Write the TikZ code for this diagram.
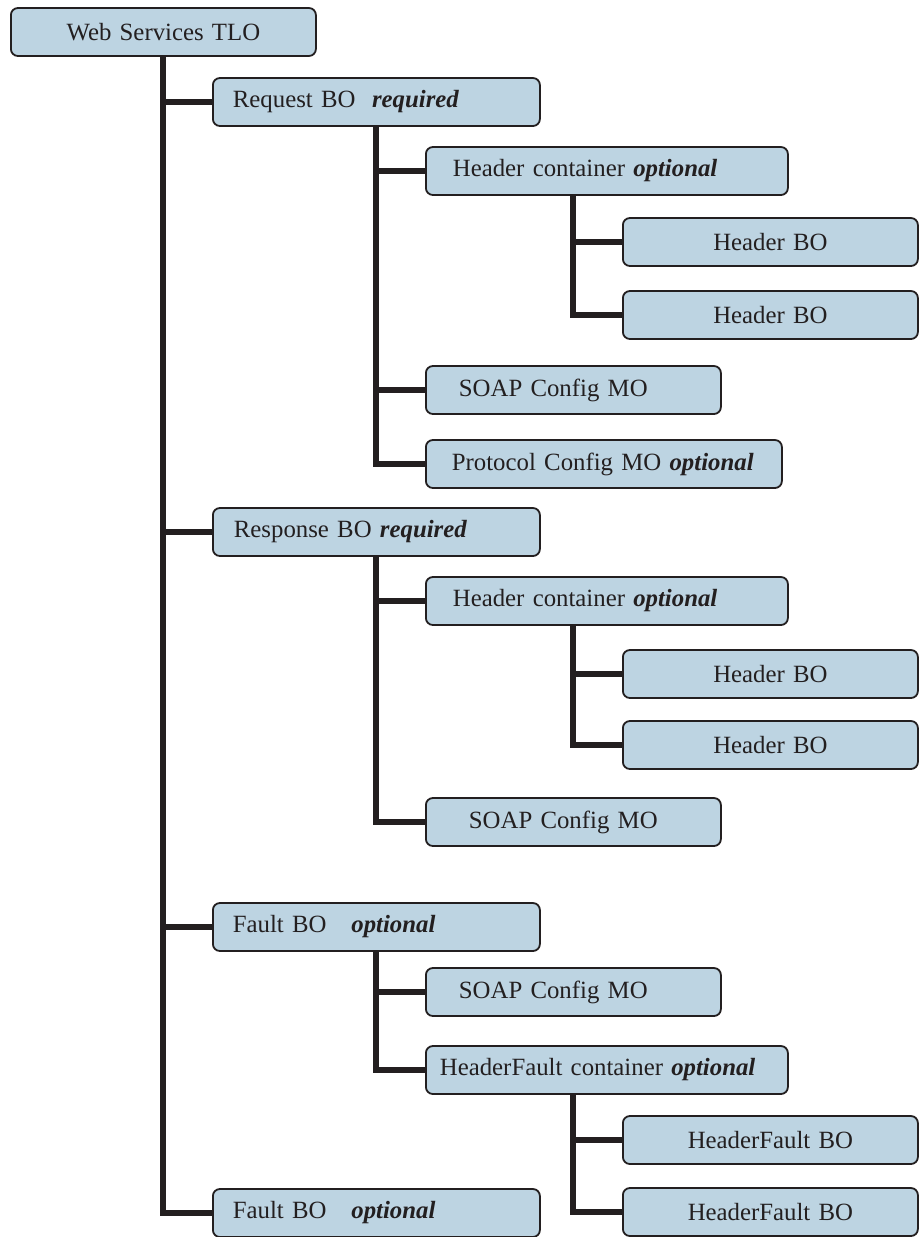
\documentclass[tikz,border=0pt]{standalone}
\usepackage{fontspec}
\setmainfont{Liberation Serif}
\usepackage{xcolor}
\usepackage{tikz}
\usetikzlibrary{positioning}
\definecolor{boxfill}{RGB}{189,212,226}
\definecolor{ink}{RGB}{35,31,32}

\begin{document}
\begin{tikzpicture}[x=0.5pt,y=-0.5pt,
  item/.style={draw=ink,fill=boxfill,line width=0.9pt,rounded corners=3.5pt,
    anchor=west,minimum height=24pt,inner ysep=0pt,text=ink,
    font=\fontsize{12.4}{14}\selectfont},
  span/.code 2 args={\pgfmathsetlengthmacro\spanw{(#1-2*#2)*0.5pt}%
    \pgfmathsetlengthmacro\spanx{#2*0.5pt}%
    \edef\spanset{\noexpand\tikzset{text width=\spanw,inner xsep=\spanx}}\spanset},
  wire/.style={draw=ink,line width=3pt}]
\useasboundingbox (0,0) rectangle (918,1237);
% top level
\node[item,span={305}{0},align=center] (tlo) at (10,32) {Web Services TLO};
% request branch
\node[item,span={327}{20},align=left] (req) at (212,102) {Request BO\ \ \textbf{\textit{required}}};
\node[item,span={362}{27},align=left] (reqhead) at (425,171) {Header container \textbf{\textit{optional}}};
\node[item,span={295}{0},align=center] (reqhbo1) at (622,242) {Header BO};
\node[item,span={295}{0},align=center] (reqhbo2) at (622,315) {Header BO};
\node[item,span={295}{33},align=left] (reqsoap) at (425,390) {SOAP Config MO};
\node[item,span={356}{26},align=left] (reqproto) at (425,464) {Protocol Config MO \textbf{\textit{optional}}};
% response branch
\node[item,span={327}{21},align=left] (resp) at (212,532) {Response BO \textbf{\textit{required}}};
\node[item,span={362}{27},align=left] (resphead) at (425,601) {Header container \textbf{\textit{optional}}};
\node[item,span={295}{0},align=center] (resphbo1) at (622,674) {Header BO};
\node[item,span={295}{0},align=center] (resphbo2) at (622,745) {Header BO};
\node[item,span={295}{43},align=left] (respsoap) at (425,822) {SOAP Config MO};
% fault branches
\node[item,span={327}{20},align=left] (fault) at (212,927) {Fault BO\ \ \ \textbf{\textit{optional}}};
\node[item,span={295}{33},align=left] (faultsoap) at (425,992) {SOAP Config MO};
\node[item,span={362}{14},align=left] (faulthead) at (425,1070) {HeaderFault container \textbf{\textit{optional}}};
\node[item,span={295}{0},align=center] (faulthfbo1) at (622,1140) {HeaderFault BO};
\node[item,span={295}{0},align=center] (faulthfbo2) at (622,1212) {HeaderFault BO};
\node[item,span={327}{20},align=left] (faultlast) at (212,1213) {Fault BO\ \ \ \textbf{\textit{optional}}};
% tree wires
\foreach \kid in {req,resp,fault,faultlast}
  \draw[wire] (tlo.south) |- (\kid.west);
\foreach \kid in {reqhead,reqsoap,reqproto}
  \draw[wire] (req.south) |- (\kid.west);
\foreach \kid in {resphead,respsoap}
  \draw[wire] (resp.south) |- (\kid.west);
\foreach \kid in {faultsoap,faulthead}
  \draw[wire] (fault.south) |- (\kid.west);
\foreach \kid in {reqhbo1,reqhbo2}
  \draw[wire] ([xshift=74pt]reqhead.south west) |- (\kid.west);
\foreach \kid in {resphbo1,resphbo2}
  \draw[wire] ([xshift=74pt]resphead.south west) |- (\kid.west);
\foreach \kid in {faulthfbo1,faulthfbo2}
  \draw[wire] ([xshift=74pt]faulthead.south west) |- (\kid.west);
\end{tikzpicture}
\end{document}
